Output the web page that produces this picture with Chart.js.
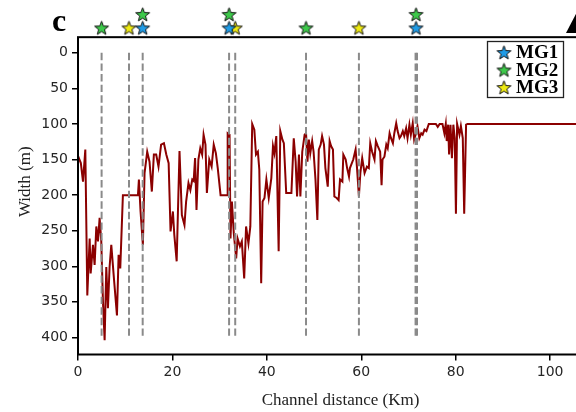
<!DOCTYPE html>
<html>
<head>
<meta charset="utf-8">
<script src="https://cdn.jsdelivr.net/npm/chart.js@4/dist/chart.umd.min.js"></script>
<style>
  html, body { margin: 0; padding: 0; background: #fff; overflow: hidden; }
  #wrap { width: 612px; height: 412px; position: relative; }
</style>
</head>
<body>
<div id="wrap"><canvas id="chart"></canvas></div>
<script>
'use strict';

// ─── Data ─────────────────────────────────────────────────────────
// Channel distance (km) and channel width (m)
const channelKm = [
  0, 0.6, 1.06, 1.55, 1.97, 2.47, 2.68, 3.17, 3.52, 3.88, 4.23, 4.58, 4.93, 5.29, 5.64, 5.99,
  6.34, 6.69, 7.05, 7.61, 8.25, 8.6, 8.95, 9.51, 12.7, 12.9, 13.25, 13.74, 14.1, 14.66, 15.15,
  15.64, 16.07, 16.56, 17.05, 17.6, 18.2, 18.7, 19.2, 19.6, 20.1, 20.4, 20.9, 21.5, 22.0,
  22.55, 22.9, 23.4, 23.8, 24.2, 24.5, 24.8, 25.1, 25.5, 25.9, 26.3, 26.6, 27.0, 27.3, 27.8,
  28.3, 28.75, 29.2, 29.6, 30.2, 31.6, 31.7, 32.1, 32.3, 32.6, 33.0, 33.5, 33.8, 34.3, 34.7,
  35.2, 35.6, 36.1, 36.5, 36.9, 37.35, 37.7, 38.1, 38.4, 38.8, 39.1, 39.5, 39.9, 40.4, 40.95,
  41.3, 41.6, 42.0, 42.5, 42.85, 43.3, 43.6, 44.1, 45.2, 45.7, 46.1, 46.4, 46.8, 47.1, 47.5,
  48.0, 48.3, 48.6, 48.9, 49.2, 49.6, 49.9, 50.3, 50.7, 51.0, 51.4, 51.7, 52.1, 52.4, 52.9,
  53.3, 53.6, 54.0, 54.3, 54.8, 55.2, 55.5, 56.0, 56.2, 56.7, 57.0, 57.4, 57.6, 58.3, 58.8,
  59.1, 59.5, 59.8, 60.2, 60.7, 61.2, 61.6, 61.9, 62.3, 62.8, 63.1, 63.5, 64.0, 64.3, 64.5,
  64.9, 65.3, 65.6, 66.0, 66.3, 66.7, 67.0, 67.4, 67.7, 68.1, 68.4, 68.8, 69.1, 69.5, 69.8,
  70.2, 70.5, 70.9, 71.2, 71.6, 71.9, 72.3, 72.7, 73.0, 73.4, 73.8, 74.3, 75.8, 76.2, 76.6,
  77.2, 77.6, 77.9, 78.1, 78.4, 78.6, 78.9, 79.2, 79.5, 79.8, 80.05, 80.3, 80.8, 81.1, 81.5,
  81.8, 82.2, 82.5, 112
];
const widthM = [
  145, 155, 181, 136, 341, 261, 310, 270, 298, 244, 265, 232, 265, 350, 404, 301,
  359, 301, 270, 317, 369, 284, 303, 200, 200, 178, 223, 270, 169, 139, 153,
  195, 143, 143, 160, 129, 127, 143, 155, 251, 223, 256, 293, 138, 228,
  242, 209, 183, 193, 178, 180, 148, 221, 150, 134, 143, 115, 129, 197, 150,
  160, 129, 141, 162, 200, 200, 113, 115, 261, 209, 254, 289, 261, 272, 265,
  317, 244, 268, 244, 100, 108, 143, 139, 164, 324, 209, 204, 178, 204, 176,
  131, 141, 117, 279, 110, 122, 127, 197, 197, 120, 153, 202, 143, 202, 139,
  115, 113, 153, 122, 141, 124, 139, 178, 235, 136, 129, 117, 129, 162, 188,
  124, 131, 136, 202, 204, 207, 178, 181, 143, 150, 162, 174, 162, 150, 136,
  162, 202, 169, 148, 169, 160, 162, 127, 139, 150, 124, 131, 139, 186, 150,
  146, 129, 134, 113, 120, 127, 113, 99, 110, 120, 117, 110, 117, 106, 120,
  101, 115, 99, 122, 113, 103, 120, 113, 115, 108, 110, 100, 100, 104, 100,
  100, 113, 100, 124, 101, 143, 101, 148, 101, 120, 226, 100, 115, 103, 120,
  226, 101, 100, 100
];

// Dashed marker lines (km) and the marker sites of each group (km)
const dashKm = [5.0, 10.8, 13.7, 32.0, 33.3, 48.3, 59.5, 71.5, 71.8];
const dashFromTo = [0, 400];
const mg1Km = [13.7, 32.0, 71.6];
const mg2Km = [5.0, 13.7, 32.0, 48.3, 71.6];
const mg3Km = [10.8, 33.3, 59.5];

const groupLabels = ['MG1', 'MG2', 'MG3'];
const groupColors = ['#1f9be6', '#3dc94a', '#efeb12'];

// y value where the plot frame starts (markers sit above it)
const frameTop = -22;

// ─── Helpers ──────────────────────────────────────────────────────
function makeStar(color, size) {
  const c = document.createElement('canvas');
  c.width = size; c.height = size;
  const g = c.getContext('2d');
  const cx = size / 2, cy = size / 2 + 0.6, ro = size / 2 - 1.2, ri = ro * 0.42;
  g.beginPath();
  for (let i = 0; i < 10; i++) {
    const r = i % 2 === 0 ? ro : ri;
    const a = -Math.PI / 2 + i * Math.PI / 5;
    g.lineTo(cx + r * Math.cos(a), cy + r * Math.sin(a));
  }
  g.closePath();
  g.fillStyle = color; g.fill();
  g.lineWidth = 1; g.strokeStyle = '#111'; g.stroke();
  return c;
}

const starImgs = groupColors.map(c => makeStar(c, 17));

// stack markers that share a site: MG1 / MG3 on the lower row, MG2 on top of them
const rowY = [-35, -54];
function stackRows(kmList, taken) {
  return kmList.map(km => {
    const n = taken.filter(t => Math.abs(t - km) < 0.6).length;
    taken.push(km);
    return { x: km, y: rowY[Math.min(n, rowY.length - 1)] };
  });
}
const taken = [];
const mg1Pts = stackRows(mg1Km, taken);
const mg3Pts = stackRows(mg3Km, taken);
const mg2Pts = stackRows(mg2Km, taken);

// ─── Datasets ─────────────────────────────────────────────────────
const dashSets = dashKm.map(km => ({
  data: dashFromTo.map(y => ({ x: km, y })),
  showLine: true,
  borderColor: '#8a8a8a',
  borderWidth: 2,
  borderDash: [7.4, 3.2],
  pointRadius: 0,
  order: 1,
}));

const widthSet = {
  label: 'Width',
  data: channelKm.map((x, i) => ({ x, y: widthM[i] })),
  showLine: true,
  borderColor: '#8b0000',
  borderWidth: 2,
  pointRadius: 0,
  tension: 0,
  order: 2,
};

const starSets = [mg1Pts, mg2Pts, mg3Pts].map((pts, i) => ({
  label: groupLabels[i],
  data: pts,
  pointStyle: starImgs[i],
  pointRadius: 8,
  clip: false,
  order: 0,
}));

// ─── Decorations: frame, panel letter, legend box ─────────────────
const decorPlugin = {
  id: 'decor',
  afterDraw(chart) {
    const { ctx, chartArea: a, scales } = chart;
    const top = scales.y.getPixelForValue(frameTop);
    ctx.save();
    ctx.strokeStyle = '#000';
    ctx.lineWidth = 2;
    ctx.strokeRect(a.left, top, a.right - a.left, a.bottom - top);

    ctx.fillStyle = '#000';
    ctx.font = 'bold 32px "Liberation Serif", "Times New Roman", serif';
    ctx.textBaseline = 'alphabetic';
    ctx.fillText('c', 52, 31);

    // edge of the neighbouring panel's arrow
    ctx.beginPath();
    ctx.moveTo(566, 33); ctx.lineTo(578, 10); ctx.lineTo(590, 33); ctx.closePath();
    ctx.fill();

    // legend
    ctx.fillStyle = '#fff';
    ctx.fillRect(487, 41, 76, 56);
    ctx.lineWidth = 1.3;
    ctx.strokeStyle = '#222';
    ctx.strokeRect(487.5, 41.5, 76, 56);
    ctx.font = 'bold 19px "Liberation Serif", "Times New Roman", serif';
    ctx.textBaseline = 'middle';
    ctx.fillStyle = '#000';
    groupLabels.forEach((lab, i) => {
      const y = 52.5 + i * 17.5;
      ctx.drawImage(starImgs[i], 504 - 8.5, y - 8.5);
      ctx.fillText(lab, 516, y + 1);
    });
    ctx.restore();
  }
};

// ─── Chart ────────────────────────────────────────────────────────
const tickFont = { family: '"DejaVu Sans", sans-serif', size: 14 };
const titleFont = { family: '"Liberation Serif", "Times New Roman", serif', size: 17 };

new Chart(document.getElementById('chart'), {
  type: 'scatter',
  data: { datasets: [widthSet, ...dashSets, ...starSets] },
  plugins: [decorPlugin],
  options: {
    responsive: true,
    maintainAspectRatio: false,
    animation: false,
    layout: { padding: { top: 2, right: 4, left: 0, bottom: 0 } },
    plugins: {
      legend: { display: false },
      tooltip: { enabled: false },
    },
    scales: {
      x: {
        type: 'linear',
        min: 0,
        max: 111.2,
        border: { display: false },
        grid: { drawOnChartArea: false, drawTicks: true, tickLength: 6, color: '#000', lineWidth: 1.5 },
        ticks: { stepSize: 20, includeBounds: false, color: '#262626', font: tickFont, padding: 3, maxRotation: 0 },
        title: { display: true, text: 'Channel distance (Km)', color: '#222', font: titleFont, padding: { top: 0, bottom: 1 } },
        afterFit(s) { s.height = 57.5; s.paddingLeft = 0; s.paddingRight = 0; },
      },
      y: {
        type: 'linear',
        reverse: true,
        min: -61.6,
        max: 424,
        border: { display: false },
        grid: { drawOnChartArea: false, drawTicks: true, tickLength: 6, color: '#000', lineWidth: 1.5 },
        ticks: { stepSize: 50, includeBounds: false, color: '#262626', font: tickFont, padding: 4 },
        title: { display: true, text: 'Width (m)', color: '#222', font: titleFont, padding: { top: 15, bottom: 0 } },
        afterBuildTicks(s) { s.ticks = s.ticks.filter(t => t.value >= 0); },
        afterFit(s) { s.width = 78; s.paddingTop = 0; s.paddingBottom = 0; },
      },
    },
  },
});
</script>
</body>
</html>
